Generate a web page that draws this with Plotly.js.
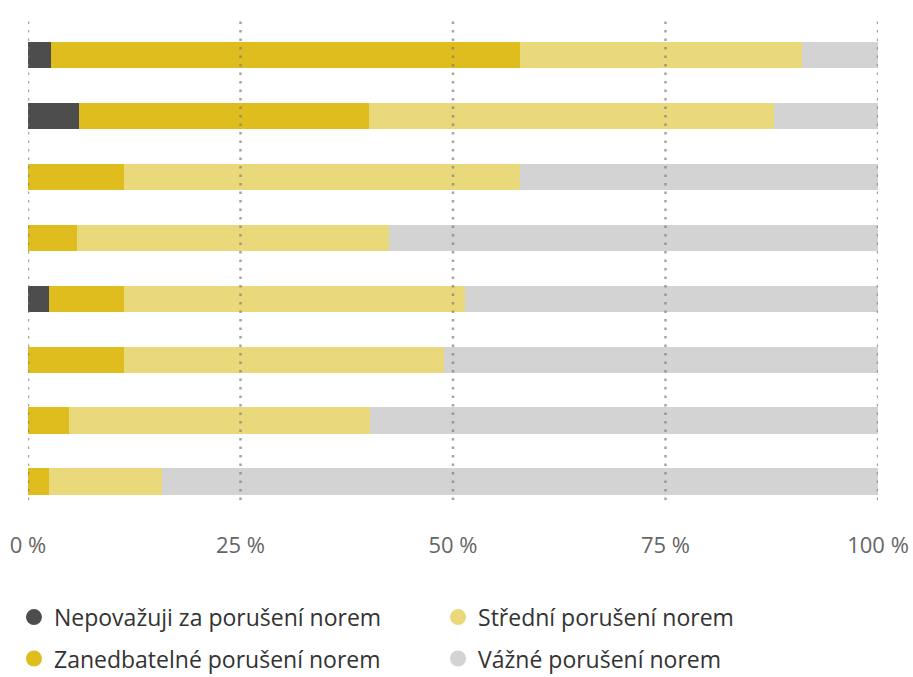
<!DOCTYPE html>
<html>
<head>
<meta charset="utf-8">
<script src="https://cdn.plot.ly/plotly-3.0.1.min.js"></script>
<style>html,body{margin:0;padding:0;background:#fff;}#chart{width:913px;height:677px;}</style>
</head>
<body>
<div id="chart"></div>
<script>
// Categories (unlabelled rows, top to bottom)
const categories = ["1", "2", "3", "4", "5", "6", "7", "8"];

// Series values in percent
const nepovazuji   = [2.7, 6.0, 0, 0, 2.5, 0, 0, 0];
const zanedbatelne = [55.2, 34.1, 11.3, 5.8, 8.8, 11.3, 4.8, 2.5];
const stredni      = [33.1, 47.7, 46.6, 36.7, 40.1, 37.6, 35.4, 13.3];
const vazne        = [9.0, 12.2, 42.1, 57.5, 48.6, 51.1, 59.8, 84.2];

const seriesNames = ["Nepovažuji za porušení norem", "Zanedbatelné porušení norem", "Střední porušení norem", "Vážné porušení norem"];
const seriesColors = ["#4d4d4d", "#dfbd1e", "#e9d97b", "#d3d3d3"];

const tickVals = [0, 25, 50, 75, 100];
const tickText = ["0 %", "25 %", "50 %", "75 %", "100 %"];

const seriesData = [nepovazuji, zanedbatelne, stredni, vazne];

const traces = seriesData.map((vals, i) => ({
  type: "bar",
  orientation: "h",
  x: vals,
  y: categories,
  name: seriesNames[i],
  marker: {color: seriesColors[i], line: {width: 0}},
  showlegend: false,
  hoverinfo: "x+name"
}));

// legend entries (circle symbols), each placed in its own legend
const legendIds = ["legend", "legend2", "legend3", "legend4"];
seriesNames.forEach((nm, i) => {
  traces.push({
    type: "scatter",
    mode: "markers",
    x: [null], y: [null],
    name: nm,
    marker: {color: seriesColors[i], size: 16, symbol: "circle"},
    showlegend: true,
    legend: legendIds[i]
  });
});

const legendFont = {family: "Open Sans, sans-serif", size: 23, color: "#333"};
const legendPos = [
  {x: -0.0165, y: -0.243},
  {x: -0.0165, y: -0.329},
  {x: 0.4824, y: -0.243},
  {x: 0.4824, y: -0.329}
];
const mkLegend = p => ({
  x: p.x, y: p.y, xanchor: "left", yanchor: "middle",
  orientation: "v", font: legendFont, bgcolor: "rgba(0,0,0,0)", borderwidth: 0
});

const shapes = tickVals.map(v => ({
  type: "line", xref: "x", yref: "paper",
  x0: v, x1: v, y0: 0, y1: 1,
  layer: "above",
  line: {color: "rgba(125,125,125,0.7)", width: 2.5, dash: "2.5px,6px"}
}));

const layout = {
  width: 913, height: 677,
  margin: {l: 28, r: 35, t: 18, b: 177, autoexpand: false},
  paper_bgcolor: "#ffffff",
  plot_bgcolor: "#ffffff",
  barmode: "stack",
  bargap: 0.57,
  xaxis: {
    range: [0, 100],
    tickvals: tickVals,
    ticktext: tickText,
    showgrid: false,
    zeroline: false,
    showline: false,
    ticks: "outside",
    ticklen: 26,
    tickcolor: "rgba(0,0,0,0)",
    tickfont: {family: "Open Sans, sans-serif", size: 22, color: "#666"},
    fixedrange: true
  },
  yaxis: {
    type: "category",
    range: [7.304, -0.607],
    showticklabels: false,
    showgrid: false,
    zeroline: false,
    showline: false,
    ticks: "",
    fixedrange: true
  },
  shapes: shapes,
  legend: mkLegend(legendPos[0]),
  legend2: mkLegend(legendPos[1]),
  legend3: mkLegend(legendPos[2]),
  legend4: mkLegend(legendPos[3]),
  showlegend: true
};

Plotly.newPlot("chart", traces, layout, {displayModeBar: false, staticPlot: true});
</script>
</body>
</html>
